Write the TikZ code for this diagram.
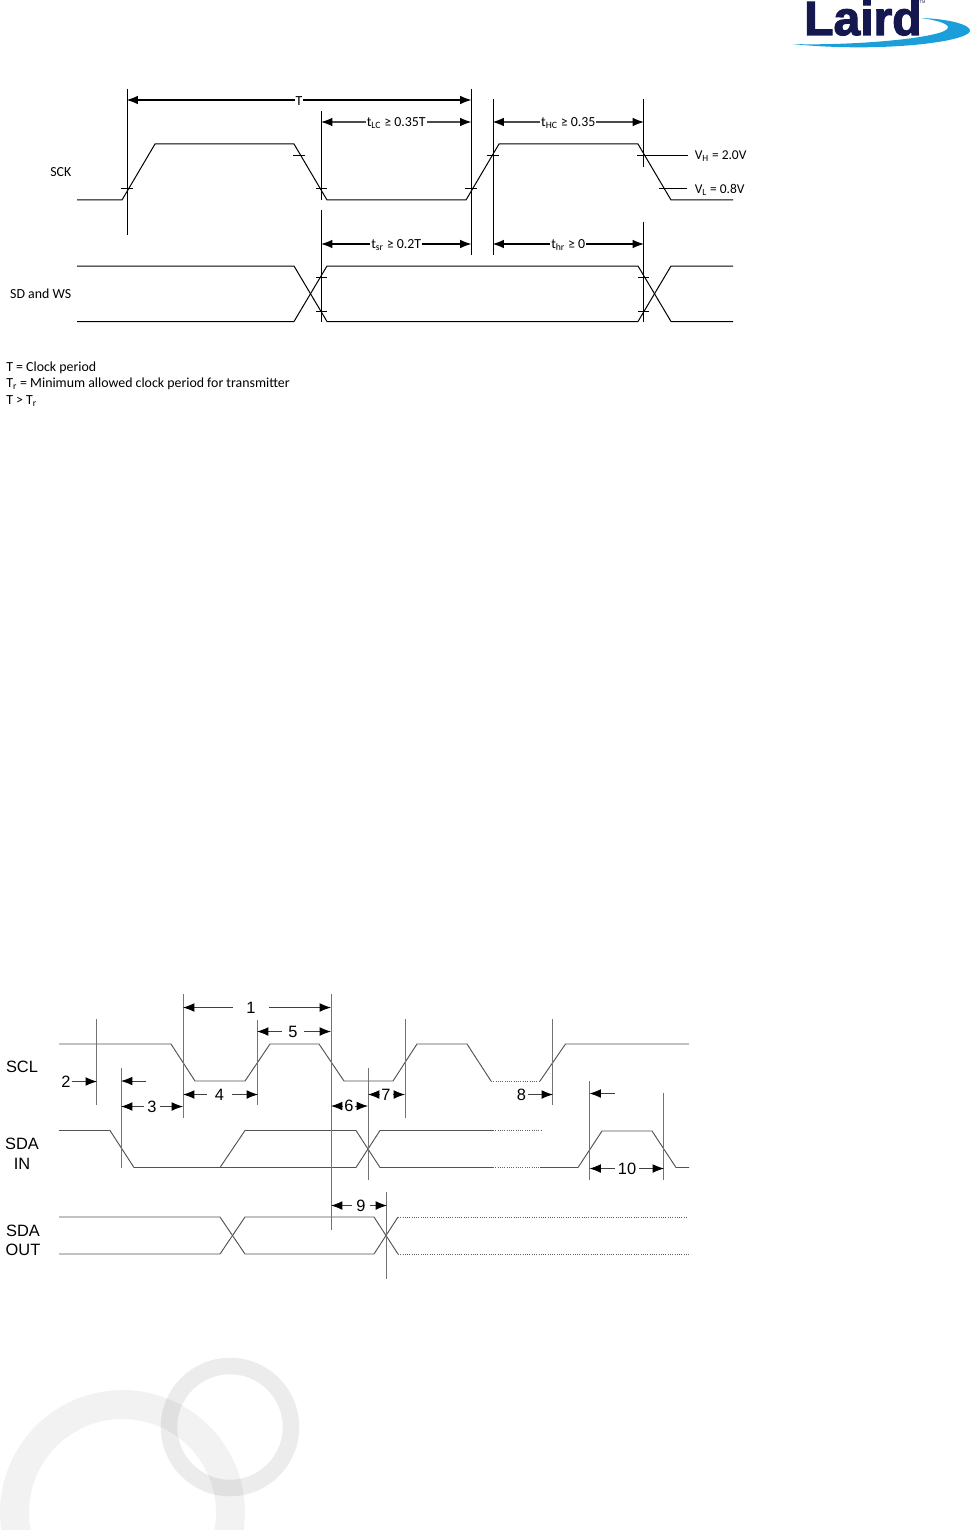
\documentclass[tikz,border=0pt]{standalone}
\usepackage{fontspec}
\setmainfont{Carlito}
\newfontfamily\arialfont{Liberation Sans}
\newfontfamily\logofont[FakeBold=2.5]{Liberation Sans Bold}
\usepackage{tikz}
\usetikzlibrary{arrows.meta}
\definecolor{lairdblue}{HTML}{15174F}
\definecolor{swoosh}{HTML}{1B9FDB}

\begin{document}
\begin{tikzpicture}[x=0.75pt,y=-0.75pt,
    wave/.style={black,line width=0.75pt},
    vmark/.style={black,line width=0.7pt},
    tickline/.style={black,line width=0.5pt},
    dimtop/.style={line width=1pt,-{Latex[length=8.5pt,width=6.5pt,black]},shorten >=-0.75pt},
    lbl/.style={inner sep=0pt,yshift=-0.75pt,font=\fontsize{10.4pt}{12pt}\selectfont},
    waveb/.style={black!68,line width=0.7pt},
    tailline/.style={black!62,line width=0.7pt,densely dotted},
    markb/.style={black!55,line width=0.55pt},
    dimb/.style={black!75,line width=0.6pt,-{Latex[length=8.5pt,width=6.5pt,black]},shorten >=-0.75pt},
    lblb/.style={inner ysep=0pt,font=\arialfont\fontsize{12.3pt}{14pt}\selectfont},
    ring/.style={black,draw opacity=0.05}]
  \path[use as bounding box] (0,0) rectangle (970,1530);

  % watermark rings
  \begin{scope}
    \clip (0,0) rectangle (970,1530);
    \draw[ring,line width=21.7pt] (122.5,1512.5) circle [radius=81pt];
    \draw[ring,line width=12.4pt,draw opacity=0.075] (230,1427) circle [radius=45.75pt];
    % logo
    \node[anchor=base west,inner sep=0pt,text=lairdblue,font=\logofont\fontsize{36pt}{36pt}\selectfont] (logo) at (804,35) {Laird};
    \node[inner sep=0pt,text=lairdblue,font=\arialfont\fontsize{3pt}{3pt}\selectfont] (tm) at (922.5,2.5) {TM};
    \fill[swoosh] (792,44) .. controls (850,46) and (950,38) .. (948,27)
      .. controls (947,23) and (935,20) .. (921,18)
      .. controls (950,19) and (971,25) .. (970,31)
      .. controls (968,42) and (880,53) .. (792,44) -- cycle;
  \end{scope}

  % upper timing diagram
  \draw[wave] (77,200) -- (122,200) -- (155,144) -- (294,144) -- (327,200) -- (466,200)
    -- (499,144) -- (638,144) -- (671,200) -- (733,200);
  \draw[wave] (77,266) -- (294,266) -- (327,321.5) -- (638,321.5) -- (671,266) -- (733,266);
  \draw[wave] (77,321.5) -- (294,321.5) -- (327,266) -- (638,266) -- (671,321.5) -- (733,321.5);
  \foreach \x/\a/\b in {127/89/235,321.5/111/200,321.5/210/322,471/89/255,493/99/255,643/99/167,643/222/322}
    \draw[vmark] (\x,\a) -- (\x,\b);
  \foreach \a/\b/\y in {121/133/188,293/305/155,316/327/188,465/477/188,487/499/155,316/327/277.5,316/327/311,638/649/277.5,638/649/311}
    \draw[tickline] (\a,\y) -- (\b,\y);
  \coordinate (vh) at (637,155);
  \coordinate (vl) at (659,188);
  \node[lbl,anchor=west,font=\fontsize{10.1pt}{12pt}\selectfont] (vhlabel) at (694.5,155.5) {V\textsubscript{H} = 2.0V};
  \node[lbl,anchor=west,font=\fontsize{10.1pt}{12pt}\selectfont] (vllabel) at (694.5,189) {V\textsubscript{L} = 0.8V};
  \draw[tickline,line width=0.7pt] (vh) -- ++(51,0);
  \draw[tickline,line width=0.7pt] (vl) -- ++(28,0);

  \foreach \n/\t/\l/\r/\y/\c in {T/T/127.5/470.5/100/black,tlc/{t\textsubscript{LC} ≥ 0.35T}/322/470.5/122/black!70,thc/{t\textsubscript{HC} ≥ 0.35}/493.5/643/122/black!70,tsr/{t\textsubscript{sr} ≥ 0.2T}/322/470.5/244/black,thr/{t\textsubscript{hr} ≥ 0}/493.5/643/244/black} {
    \coordinate (\n l) at (\l,\y);
    \coordinate (\n r) at (\r,\y);
    \path (\n l) -- (\n r) node[midway,lbl,inner xsep=0.5pt] (\n) {\t};
    \draw[dimtop,\c] (\n.west |- \n l) -- (\n l);
    \draw[dimtop,\c] (\n.east |- \n r) -- (\n r);
  }

  \node[lbl,anchor=east] (sck) at (71.5,171.5) {SCK};
  \node[lbl,anchor=east] (sdws) at (71.5,292.5) {SD and WS};
  \node[lbl,anchor=west] (leg1) at (6,367) {T = Clock period};
  \node[lbl,anchor=west] (leg2) at (6,383) {T\textsubscript{r} = Minimum allowed clock period for transmitter};
  \node[lbl,anchor=west] (leg3) at (6,400) {T > T\textsubscript{r}};

  % lower timing diagram
  \draw[waveb] (59,1044) -- (171,1044) -- (195,1081) -- (245,1081) -- (270,1044) -- (319,1044)
    -- (344,1081) -- (393,1081) -- (417,1044) -- (467,1044) -- (491,1081);
  \draw[tailline] (491,1081) -- (540,1081);
  \draw[waveb] (540,1081) -- (565.5,1044) -- (689,1044);
  \draw[waveb] (59,1130.5) -- (110,1130.5) -- (134,1167.5) -- (220,1167.5) -- (245,1130.5)
    -- (356,1130.5) -- (380,1167.5) -- (493,1167.5);
  \draw[tailline] (493,1167.5) -- (540,1167.5);
  \draw[waveb] (540,1167.5) -- (578,1167.5) -- (602,1131) -- (652,1131) -- (676,1167.5) -- (689,1167.5);
  \draw[waveb] (220,1167.5) -- (356,1167.5) -- (380,1130.5) -- (493,1130.5);
  \draw[tailline] (493,1130.5) -- (541,1130.5);
  \draw[waveb] (59,1217) -- (220,1217) -- (245,1254) -- (374,1254) -- (398,1217);
  \draw[tailline] (398,1217) -- (687,1217);
  \draw[waveb] (59,1254) -- (220,1254) -- (245,1217) -- (374,1217) -- (398,1254);
  \draw[tailline] (398,1254) -- (689,1254);
  \foreach \x/\a/\b in {96.5/1019/1105,121.5/1068/1168,183/994/1118,257/1020/1105,331/994/1230,368/1068/1180,405/1019/1118,552.5/1019/1105,589.5/1081/1180,663.5/1093/1180,386.5/1192/1279}
    \draw[markb] (\x,\a) -- (\x,\b);

  \foreach \n/\x/\y/\g/\l/\r in {1/251/1007.5/10pt/184/330,5/293/1031.5/5pt/258/330,3/152/1106.5/2.6pt/122/182,4/219.5/1094.5/5.6pt/184/257,6/349/1106/0.75pt/332/367,7/386/1094.5/1.5pt/369/404,9/361/1205.5/3pt/332/386,10/627/1168.5/2.25pt/590.5/663} {
    \coordinate (p\n l) at (\l,\y);
    \coordinate (p\n r) at (\r,\y);
    \node[lblb,inner xsep=\g] (n\n) at (\x,\y) {\n};
    \draw[dimb] (n\n) -- (p\n l);
    \draw[dimb] (n\n) -- (p\n r);
  }
  \foreach \n/\x/\y/\r in {2/66/1081.5/96,8/521.5/1094.5/552} {
    \coordinate (p\n r) at (\r,\y);
    \node[lblb,inner xsep=1pt] (n\n) at (\x,\y) {\n};
    \draw[dimb] (n\n) -- (p\n r);
  }
  \coordinate (q1a) at (146,1081);
  \coordinate (q1b) at (122,1081);
  \coordinate (q2a) at (615,1093.5);
  \coordinate (q2b) at (590.5,1093.5);
  \draw[dimb] (q1a) -- (q1b);
  \draw[dimb] (q2a) -- (q2b);

  \node[lblb,inner sep=0pt] (scl) at (22,1067) {SCL};
  \node[lblb,inner sep=0pt] (sdaa) at (22,1143.5) {SDA};
  \node[lblb,inner sep=0pt] (in) at (22,1163.5) {IN};
  \node[lblb,inner sep=0pt] (sdab) at (23,1230.5) {SDA};
  \node[lblb,inner sep=0pt] (out) at (23,1249.5) {OUT};
\end{tikzpicture}
\end{document}
